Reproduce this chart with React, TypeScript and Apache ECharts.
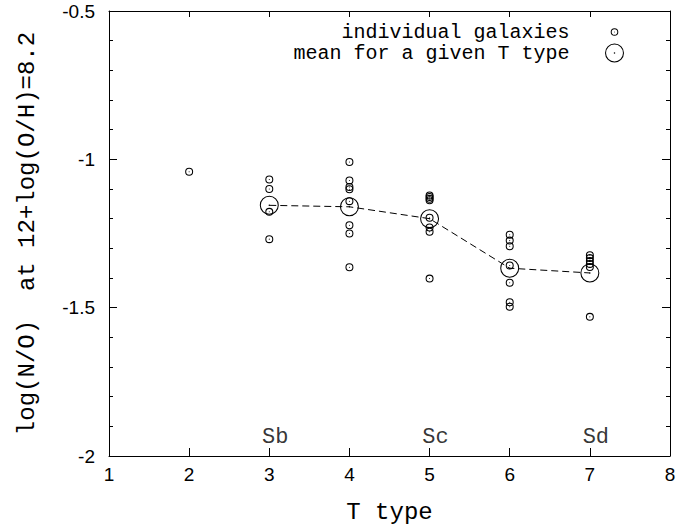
import React, { useEffect, useRef } from "react";
import * as echarts from "echarts";

// T type of each group of individual galaxies and their log(N/O)
const galaxyT = [2, 3, 4, 5, 6, 7];
const galaxyLogNO = [
  [-1.042],
  [-1.068, -1.1, -1.177, -1.269],
  [-1.009, -1.071, -1.093, -1.101, -1.141, -1.222, -1.25, -1.364],
  [-1.122, -1.127, -1.133, -1.138, -1.197, -1.23, -1.244, -1.402],
  [-1.254, -1.274, -1.293, -1.358, -1.416, -1.482, -1.497],
  [-1.323, -1.333, -1.343, -1.353, -1.363, -1.531],
];

// mean for each T type
const meanT = [3, 4, 5, 6, 7];
const meanLogNO = [-1.155, -1.16, -1.2, -1.367, -1.383];

// morphological class labels
const morphNames = ["Sb", "Sc", "Sd"];
const morphT = [3, 5, 7];
const morphLevel = -1.937;

const SERIES_IND = "individual galaxies";
const SERIES_MEAN = "mean for a given T type";
const MONO = "'Liberation Mono', 'Courier New', monospace";
const SANS = "'Liberation Sans', Arial, Helvetica, sans-serif";

function circ(cx: number, r: number, cw: boolean): string {
  const s = cw ? 1 : 0;
  return `M${cx},${cx - r} A${r},${r} 0 1,${s} ${cx},${cx + r} A${r},${r} 0 1,${s} ${cx},${cx - r} Z `;
}

function ringPath(box: number, r: number, t: number, d: number): string {
  const c = box / 2;
  let p = circ(c, r, true) + circ(c, r - t, false) + circ(c, d, true);
  if (box > 2 * r) {
    p += `M0,0 L0.01,0 L0,0.01 Z M${box},${box} L${box - 0.01},${box} L${box},${box - 0.01} Z`;
  }
  return "path://" + p;
}

const smallSym = ringPath(20, 10, 2.6, 1.3);
const bigSym = ringPath(20, 10, 1.1, 0.8);
const smallLegendSym = ringPath(50, 10, 2.6, 1.3);

export default function App() {
  const ref = useRef<HTMLDivElement>(null);

  useEffect(() => {
    if (!ref.current) return;
    const chart = echarts.init(ref.current, undefined, { renderer: "svg" });

    const indData: number[][] = [];
    galaxyT.forEach((t, i) => galaxyLogNO[i].forEach((v) => indData.push([t, v])));
    const meanData = meanT.map((t, i) => [t, meanLogNO[i]]);
    const morphData = morphT.map((t) => [t, morphLevel]);

    const axisLine = { show: true, lineStyle: { color: "#000", width: 1 } };

    const xCommon = {
      type: "value" as const,
      min: 1,
      max: 8,
      interval: 1,
      splitLine: { show: false },
      axisLine,
    };
    const yCommon = {
      type: "value" as const,
      min: -2,
      max: -0.5,
      interval: 0.5,
      splitLine: { show: false },
      minorSplitLine: { show: false },
      axisLine,
      minorTick: { show: true, splitNumber: 5, length: 4, lineStyle: { color: "#000", width: 1 } },
    };

    chart.setOption({
      animation: false,
      backgroundColor: "#fff",
      grid: { left: 109, right: 24, top: 11, bottom: 68, containLabel: false },
      legend: {
        show: true,
        orient: "vertical",
        align: "right",
        right: 70,
        top: 22,
        padding: 0,
        itemWidth: 80,
        itemHeight: 19,
        itemGap: 1,
        selectedMode: false,
        textStyle: { fontFamily: MONO, fontSize: 20, color: "#000" },
        data: [
          { name: SERIES_IND, icon: smallLegendSym },
          { name: SERIES_MEAN, icon: bigSym },
        ],
      },
      xAxis: [
        {
          ...xCommon,
          position: "bottom",
          axisTick: { show: true, inside: true, length: 8, lineStyle: { color: "#000" } },
          axisLabel: { show: true, margin: 9, fontFamily: SANS, fontSize: 19, color: "#000" },
          name: "T type",
          nameLocation: "middle",
          nameGap: 44,
          nameTextStyle: { fontFamily: MONO, fontSize: 24, color: "#000" },
        },
        {
          ...xCommon,
          position: "top",
          axisTick: { show: true, inside: true, length: 6, lineStyle: { color: "#000" } },
          axisLabel: { show: false },
        },
      ],
      yAxis: [
        {
          ...yCommon,
          position: "left",
          axisTick: { show: true, inside: true, length: 8, lineStyle: { color: "#000" } },
          axisLabel: { show: true, margin: 14, fontFamily: SANS, fontSize: 19, color: "#000" },
          name: "log(N/O)  at 12+log(O/H)=8.2",
          nameLocation: "middle",
          nameRotate: 90,
          nameGap: 70,
          nameTextStyle: { fontFamily: MONO, fontSize: 24, color: "#000" },
        },
        {
          ...yCommon,
          position: "right",
          axisTick: { show: true, inside: true, length: 8, lineStyle: { color: "#000" } },
          axisLabel: { show: false },
        },
      ],
      series: [
        {
          name: "meanLine",
          type: "line",
          data: meanData,
          symbol: "none",
          silent: true,
          z: 1,
          lineStyle: { color: "#000", width: 1, type: [7, 4] },
          emphasis: { disabled: true },
        },
        {
          name: SERIES_IND,
          type: "scatter",
          data: indData,
          symbol: smallSym,
          symbolSize: 8,
          silent: true,
          z: 3,
          itemStyle: { color: "#000", opacity: 1, borderWidth: 0 },
          emphasis: { disabled: true },
        },
        {
          name: SERIES_MEAN,
          type: "scatter",
          data: meanData,
          symbol: bigSym,
          symbolSize: 19,
          silent: true,
          z: 2,
          itemStyle: { color: "#000", opacity: 1, borderWidth: 0 },
          emphasis: { disabled: true },
        },
        {
          name: "morph",
          type: "scatter",
          data: morphData,
          symbolSize: 0,
          silent: true,
          itemStyle: { color: "transparent" },
          label: {
            show: true,
            position: "inside",
            offset: [6, 0],
            formatter: (p: any) => morphNames[p.dataIndex],
            fontFamily: MONO,
            fontSize: 22,
            color: "#000",
          },
          emphasis: { disabled: true },
        },
      ],
    });

    return () => chart.dispose();
  }, []);

  return (
    <div
      ref={ref}
      style={{ position: "fixed", left: 0, top: 0, width: 694, height: 529, background: "#fff" }}
    />
  );
}
